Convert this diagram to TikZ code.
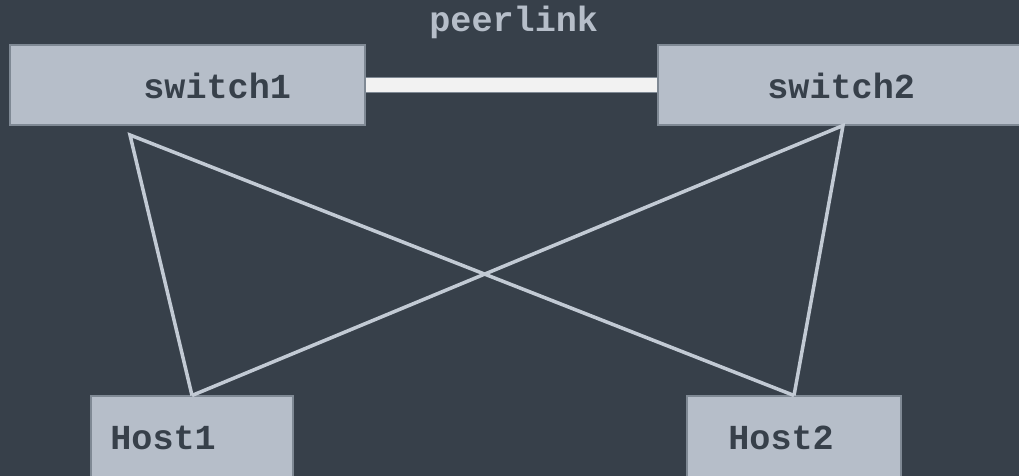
\documentclass[tikz,border=0pt]{standalone}
\usepackage{fontspec}
\setmonofont{Liberation Mono}
\usepackage{tikz}
\usetikzlibrary{positioning}
\definecolor{netbg}{HTML}{37404A}
\definecolor{netbox}{HTML}{B6BEC9}
\definecolor{netedge}{HTML}{7F8994}
\definecolor{netwire}{HTML}{C2CAD4}
\definecolor{netpeer}{HTML}{F2F2F2}

\begin{document}
\begin{tikzpicture}[x=0.02cm, y=-0.02cm,
    devbox/.style={draw=netedge, line width=0.6pt, fill=netbox, inner sep=0pt},
    devlabel/.style={anchor=base west, inner sep=0pt, text=netbg,
      font=\fontsize{20}{20}\selectfont\ttfamily\bfseries},
    wire/.style={netwire, line width=2pt}]
  \clip (0,0) rectangle (1019,476);
  \fill[netbg] (0,0) rectangle (1019,476);
  % switches on top, hosts at the bottom
  \node[devbox, minimum width=355*0.02cm, minimum height=80*0.02cm] (sw1) at (187.5,85) {};
  \node[devbox, minimum width=370*0.02cm, minimum height=80*0.02cm] (sw2) at (843,85) {};
  \node[devbox, minimum width=202*0.02cm, minimum height=100*0.02cm] (h1) at (192,446) {};
  \node[devbox, minimum width=214*0.02cm, minimum height=100*0.02cm] (h2) at (794,446) {};
  \node[devlabel] (sw1txt) at (143,99) {switch1};
  \node[devlabel] (sw2txt) at (767,99) {switch2};
  \node[devlabel] (h1txt) at (110,450) {Host1};
  \node[devlabel] (h2txt) at (728,450) {Host2};
  % peer link between the two switches
  \draw[draw=netedge, line width=0.6pt, double=netpeer, double distance=14*0.02cm]
    (sw1.east) -- (sw2.west);
  \node[devlabel, text=netbox] (peertxt) at (429,32) {peerlink};
  % uplinks, every host to both switches
  \coordinate (sw1port) at (130,135);
  \draw[wire, line join=miter] (h1.north) -- (sw1port) -- (h2.north);
  \draw[wire, line join=miter] (h1.north) -- (sw2.south) -- (h2.north);
\end{tikzpicture}
\end{document}
